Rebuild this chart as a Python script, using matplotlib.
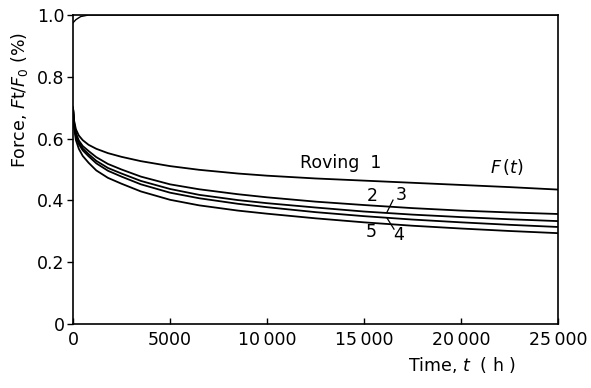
import matplotlib
matplotlib.use("Agg")
import matplotlib.pyplot as plt

# Time points (h) and relative force F_t/F_0 for the five rovings
time_h = [0, 50, 150, 300, 500, 800, 1200, 1800, 2500, 3500, 5000, 6500,
          8500, 10000, 12500, 15000, 17500, 20000, 22500, 25000]
roving_1 = [0.70, 0.66, 0.63, 0.61, 0.595, 0.58, 0.567, 0.553, 0.541, 0.527,
            0.511, 0.499, 0.487, 0.48, 0.471, 0.464, 0.457, 0.45, 0.443, 0.435]
roving_2 = [0.70, 0.655, 0.618, 0.594, 0.576, 0.56, 0.54, 0.518, 0.50, 0.477,
            0.452, 0.436, 0.42, 0.41, 0.396, 0.385, 0.375, 0.367, 0.361, 0.356]
roving_3 = [0.70, 0.65, 0.612, 0.587, 0.568, 0.55, 0.528, 0.505, 0.487, 0.463,
            0.437, 0.418, 0.401, 0.391, 0.377, 0.364, 0.354, 0.346, 0.339, 0.333]
roving_4 = [0.70, 0.647, 0.608, 0.582, 0.562, 0.543, 0.52, 0.496, 0.477, 0.452,
            0.425, 0.407, 0.389, 0.378, 0.362, 0.349, 0.338, 0.329, 0.321, 0.314]
roving_5 = [0.70, 0.638, 0.595, 0.567, 0.544, 0.522, 0.497, 0.473, 0.454, 0.429,
            0.402, 0.384, 0.367, 0.357, 0.342, 0.329, 0.318, 0.309, 0.301, 0.294]

# Applied load curve near F/F0 = 1
load_time = [0, 150, 400, 800, 25000]
load_force = [0.975, 0.985, 0.995, 1.0, 1.0]

x_ticks = [0, 5000, 10000, 15000, 20000, 25000]
x_tick_labels = ["0", "5000", "10\u2009000", "15\u2009000", "20\u2009000", "25\u2009000"]
y_ticks = [0, 0.2, 0.4, 0.6, 0.8, 1.0]
y_tick_labels = ["0", "0.2", "0.4", "0.6", "0.8", "1.0"]

plt.rcParams["font.family"] = ["DejaVu Sans"]
fs = 12.5

fig = plt.figure(figsize=(5.91, 3.88), dpi=100)
ax = fig.add_axes([73 / 591, 1 - 324 / 388, (558 - 73) / 591, (324 - 15) / 388])

for series in (roving_1, roving_2, roving_3, roving_4, roving_5):
    ax.plot(time_h, series, color="black", lw=1.3)
ax.plot(load_time, load_force, color="black", lw=1.0)

ax.set_xlim(0, 25000)
ax.set_ylim(0, 1.0)
for s in ax.spines.values():
    s.set_linewidth(1.2)

ax.set_xticks(x_ticks)
ax.set_xticklabels(x_tick_labels, fontsize=fs)
ax.set_yticks(y_ticks)
ax.set_yticklabels(y_tick_labels, fontsize=fs)
ax.tick_params(axis="x", direction="in", length=4, width=1.0, pad=5)
ax.tick_params(axis="y", direction="out", length=4, width=1.0, pad=2)

# Curve labels
ax.text(11700, 0.521, "Roving  1", fontsize=fs, ha="left", va="center")
ax.text(22370, 0.508, r"$F\,(t)$", fontsize=fs, ha="center", va="center")
ax.text(15412, 0.414, "2", fontsize=fs, ha="center", va="center")
ax.text(16907, 0.417, "3", fontsize=fs, ha="center", va="center")
ax.text(15361, 0.298, "5", fontsize=fs, ha="center", va="center")
ax.text(16804, 0.288, "4", fontsize=fs, ha="center", va="center")
ax.plot([16495, 16186], [0.401, 0.362], color="black", lw=0.9)
ax.plot([16186, 16546], [0.343, 0.307], color="black", lw=0.9)

# Axis titles
fig.text(20 / 591, 1 - 100 / 388, r"Force, $F$t/$F_0$ (%)", fontsize=fs,
         rotation=90, ha="center", va="center")
fig.text(462 / 591, 1 - 365 / 388, r"Time, $t$  ( h )", fontsize=fs,
         ha="center", va="center")

fig.savefig("out.png", dpi=100)
